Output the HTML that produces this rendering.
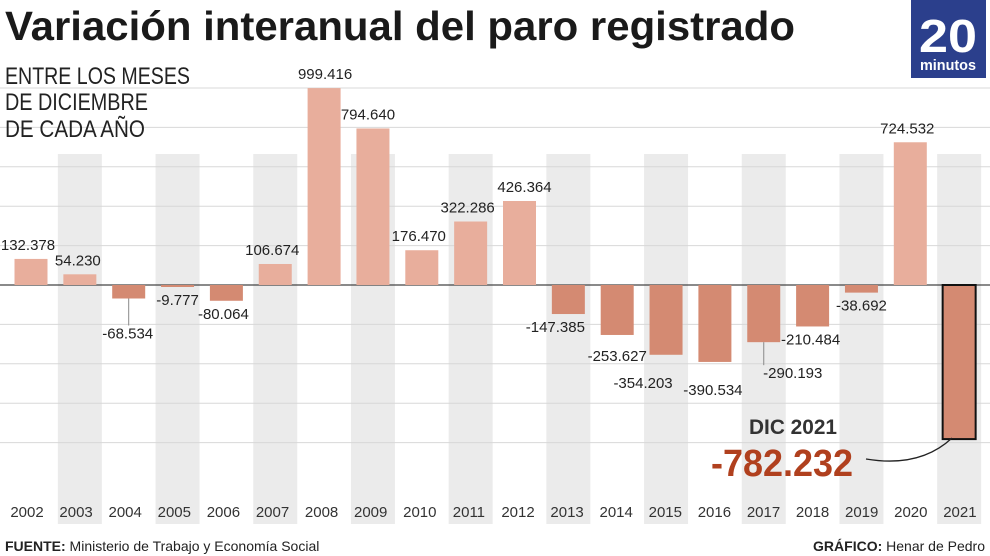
<!DOCTYPE html>
<html><head><meta charset="utf-8"><style>
body{margin:0;background:#fff;}
svg{display:block;font-family:"Liberation Sans",sans-serif;}
</style></head><body>
<svg id="chart" width="990" height="556" viewBox="0 0 990 556">
<g id="bands"></g><g id="grid"></g><g id="bars"></g><g id="labels"></g>
<text x="5" y="40" font-size="41" font-weight="bold" fill="#1a1a1a" textLength="790" lengthAdjust="spacingAndGlyphs">Variación interanual del paro registrado</text>
<g font-size="24" fill="#222">
<text x="5" y="84" textLength="185" lengthAdjust="spacingAndGlyphs">ENTRE LOS MESES</text>
<text x="5" y="110" textLength="143" lengthAdjust="spacingAndGlyphs">DE DICIEMBRE</text>
<text x="5" y="137" textLength="140" lengthAdjust="spacingAndGlyphs">DE CADA AÑO</text>
</g>
<g>
<rect x="911" y="0" width="75" height="78" fill="#2b3f8c"/>
<text x="948" y="52" font-size="46" font-weight="bold" fill="#fff" text-anchor="middle" textLength="58" lengthAdjust="spacingAndGlyphs">20</text>
<text x="948" y="70" font-size="15" font-weight="bold" fill="#fff" text-anchor="middle" textLength="56" lengthAdjust="spacingAndGlyphs">minutos</text>
</g>
<g>
<text x="793" y="434" font-size="21" font-weight="bold" fill="#333" text-anchor="middle" textLength="88" lengthAdjust="spacingAndGlyphs">DIC 2021</text>
<text x="782" y="476" font-size="38" font-weight="bold" fill="#b0401e" text-anchor="middle" textLength="142" lengthAdjust="spacingAndGlyphs">-782.232</text>
<path d="M866 459 Q920 468 952 438" fill="none" stroke="#222" stroke-width="1.3"/>
</g>
<text x="5" y="551" font-size="14" fill="#222"><tspan font-weight="bold">FUENTE:</tspan> Ministerio de Trabajo y Economía Social</text>
<text x="985" y="551" font-size="14" fill="#222" text-anchor="end"><tspan font-weight="bold">GRÁFICO:</tspan> Henar de Pedro</text>
</svg>
<script>
const years=["2002","2003","2004","2005","2006","2007","2008","2009","2010","2011","2012","2013","2014","2015","2016","2017","2018","2019","2020","2021"];
const values=[132378,54230,-68534,-9777,-80064,106674,999416,794640,176470,322286,426364,-147385,-253627,-354203,-390534,-290193,-210484,-38692,724532,-782232];
const valueLabels=["132.378","54.230","-68.534","-9.777","-80.064","106.674","999.416","794.640","176.470","322.286","426.364","-147.385","-253.627","-354.203","-390.534","-290.193","-210.484","-38.692","724.532",""];
const gridTicks=[1000000,800000,600000,400000,200000,0,-200000,-400000,-600000,-800000];
// layout nudges for value labels (pixels, not data)
const labelDx=[-3,-2,-1,0,-3,-3,1,-5,-3,-3,5,-13,0,-23,-2,29,-2,0,-3,0];
const labelDy=[0,0,22,0,0,0,0,0,0,0,0,0,8,15,15,18,0,0,0,0];
const NS="http://www.w3.org/2000/svg";
const y0=285, k=197/1000000;
function y(v){return y0-v*k;}
function x(i){return 31+i*48.85;}
function tx(i){return 27+i*49.1;}
function mk(tag,attrs,parent){const e=document.createElementNS(NS,tag);for(const a in attrs)e.setAttribute(a,attrs[a]);document.getElementById(parent).appendChild(e);return e;}
years.forEach((yr,i)=>{
 if(i%2===1){const b=mk('rect',{x:x(i)-22,y:154,width:44,height:370,fill:'#ebebeb'},'bands');
 
 }
 const t=mk('text',{x:tx(i),y:517,'font-size':15,fill:'#333','text-anchor':'middle'},'labels');
 t.textContent=yr;
 
 
});
gridTicks.forEach(v=>{
 const l=mk('line',{x1:0,x2:990,y1:y(v),y2:y(v),stroke:v===0?'#444':'#d8d8d8','stroke-width':v===0?1.2:1},'grid');
 
 
});
values.forEach((v,i)=>{
 const last=i===values.length-1;
 const top=Math.min(y(v),y0), h=Math.abs(y(v)-y0);
 const r=mk('rect',{x:x(i)-16.5,y:top,width:33,height:Math.max(h,2),fill:v>=0?'#e8ae9c':'#d48a72',stroke:last?'#111':'none','stroke-width':last?2:0},'bars');
 
 
 if(!valueLabels[i])return;
 let ly;
 const lx=x(i)+labelDx[i];
 if(v>=0){ly=y(v)-9;}
 else{
   ly=Math.max(y(v),y0)+18+labelDy[i];
   if(i===2||i===15)mk('line',{x1:x(i),x2:x(i),y1:y(v),y2:ly-13,stroke:'#888'},'labels');
 }
 const t=mk('text',{x:lx,y:ly,'font-size':15,fill:'#222','text-anchor':'middle'},'labels');
 t.textContent=valueLabels[i];
 
 
});
</script>
</body></html>
